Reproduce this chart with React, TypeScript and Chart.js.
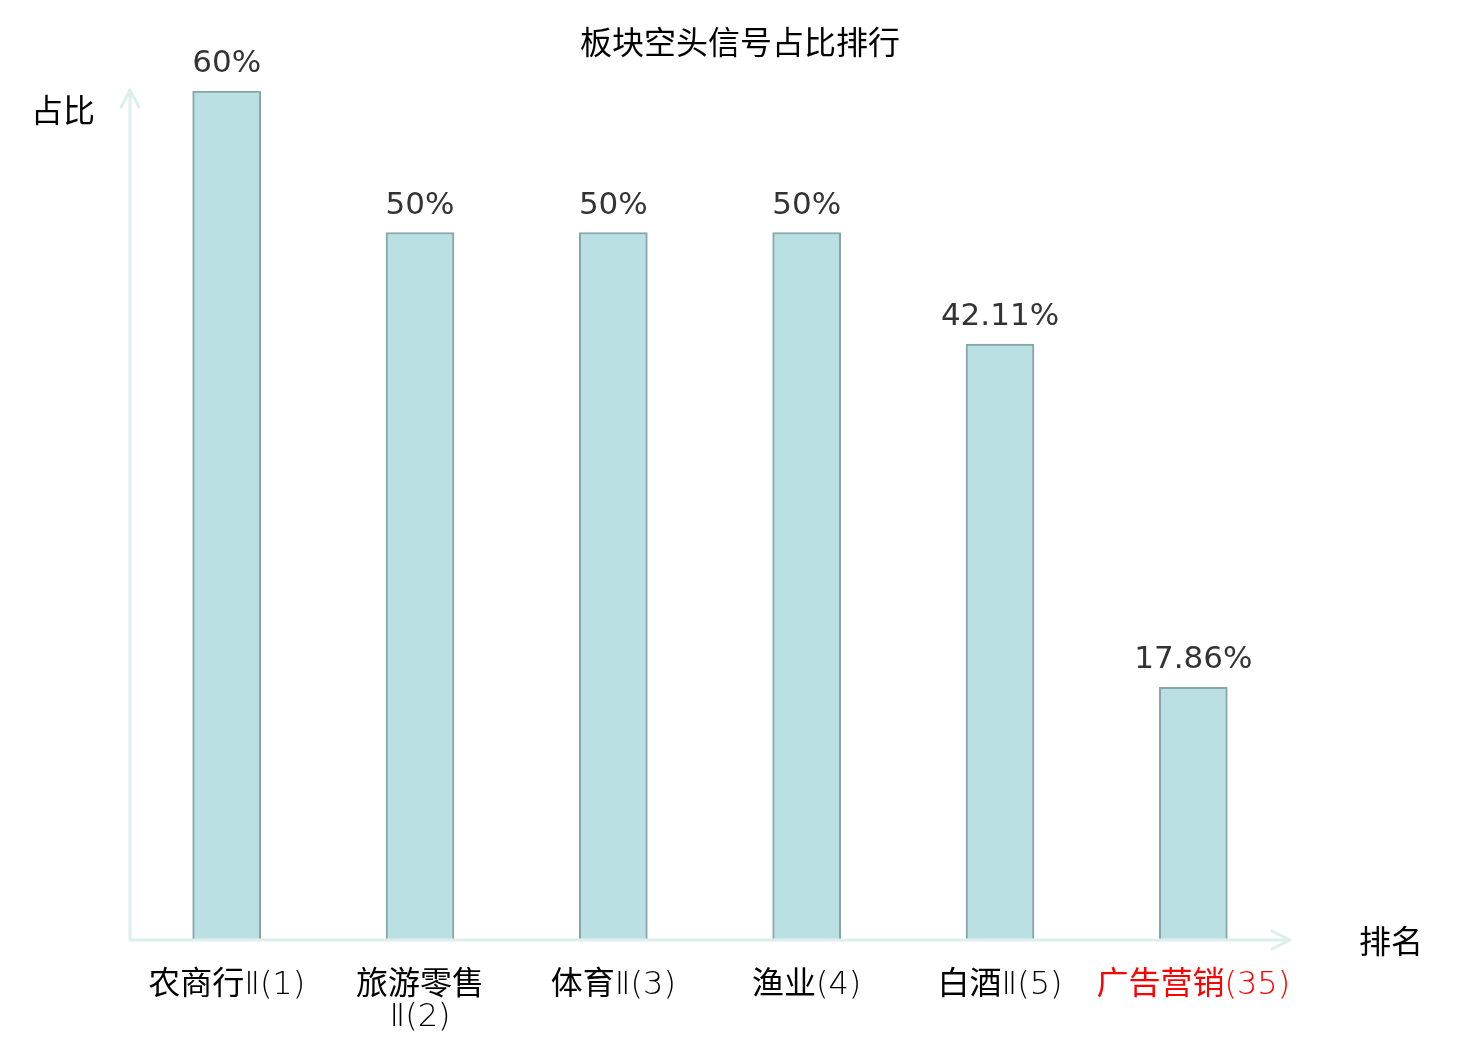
import { useEffect, useRef } from 'react';
import { Chart, registerables, Plugin } from 'chart.js';

Chart.register(...registerables);

const categories: (string | string[])[] = ['农商行Ⅱ(1)', ['旅游零售', 'Ⅱ(2)'], '体育Ⅱ(3)', '渔业(4)', '白酒Ⅱ(5)', '广告营销(35)'];
const ratios = [60, 50, 50, 50, 42.11, 17.86];
const highlightIndex = 5;

const chartTitle = '板块空头信号占比排行';
const yName = '占比';
const xName = '排名';

const CJK = '"Noto Sans CJK SC", "DejaVu Sans", sans-serif';
const CJK_FONT = '32px "Noto Sans CJK SC", sans-serif';
const LATIN_FONT = '200 32px "DejaVu Sans", sans-serif';
const AXIS_COLOR = '#dcefed';

const isCJK = (ch: string) => /[\u2E80-\u9FFF\uF900-\uFAFF\uFF00-\uFFEF]/.test(ch);

// category labels mix regular CJK with a light latin face
function drawMixed(ctx: CanvasRenderingContext2D, text: string, cx: number, y: number) {
    const runs: { s: string; font: string }[] = [];
    for (const ch of text) {
        const font = isCJK(ch) ? CJK_FONT : LATIN_FONT;
        const last = runs[runs.length - 1];
        if (last && last.font === font) last.s += ch;
        else runs.push({ s: ch, font });
    }
    let total = 0;
    const widths = runs.map((r) => {
        ctx.font = r.font;
        const w = ctx.measureText(r.s).width;
        total += w;
        return w;
    });
    let x = cx - total / 2;
    runs.forEach((r, i) => {
        ctx.font = r.font;
        ctx.fillText(r.s, x, y);
        x += widths[i];
    });
}

// axes with arrows, value labels, category labels, title and axis names
const decorations: Plugin<'bar'> = {
    id: 'decorations',
    afterDatasetsDraw(chart) {
        const { ctx, chartArea } = chart;
        const { left, right, top, bottom } = chartArea;
        ctx.save();

        ctx.strokeStyle = AXIS_COLOR;
        ctx.lineWidth = 3;
        ctx.lineCap = 'round';
        ctx.lineJoin = 'round';
        ctx.beginPath();
        ctx.moveTo(left, bottom);
        ctx.lineTo(left, top - 1);
        ctx.moveTo(left - 9, top + 16);
        ctx.lineTo(left, top - 1);
        ctx.lineTo(left + 9, top + 16);
        ctx.moveTo(left, bottom);
        ctx.lineTo(right, bottom);
        ctx.moveTo(right - 18, bottom - 9);
        ctx.lineTo(right, bottom);
        ctx.lineTo(right - 18, bottom + 9);
        ctx.stroke();

        const meta = chart.getDatasetMeta(0);
        ctx.fillStyle = '#333';
        ctx.font = '31px "DejaVu Sans", sans-serif';
        ctx.textAlign = 'center';
        ctx.textBaseline = 'alphabetic';
        meta.data.forEach((bar, i) => {
            ctx.fillText(ratios[i] + '%', bar.x, bar.y - 19);
        });

        const xScale = chart.scales.x;
        ctx.textAlign = 'left';
        ctx.textBaseline = 'alphabetic';
        categories.forEach((label, i) => {
            const cx = xScale.getPixelForValue(i);
            const lines = Array.isArray(label) ? label : [label];
            ctx.fillStyle = i === highlightIndex ? '#f00' : '#000';
            lines.forEach((line, j) => drawMixed(ctx, line, cx, bottom + 54 + j * 32));
        });

        ctx.fillStyle = '#000';
        ctx.textAlign = 'center';
        ctx.textBaseline = 'middle';
        ctx.font = '32px ' + CJK;
        ctx.fillText(chartTitle, chart.width / 2, 42);
        ctx.fillText(yName, 63, 110);
        ctx.fillText(xName, 1391, 941);
        ctx.restore();
    },
};

const App = () => {
    const canvasRef = useRef<HTMLCanvasElement | null>(null);
    const chartRef = useRef<Chart | null>(null);

    useEffect(() => {
        if (!canvasRef.current) return;
        if (chartRef.current) chartRef.current.destroy();

        chartRef.current = new Chart(canvasRef.current, {
            type: 'bar',
            data: {
                labels: categories,
                datasets: [
                    {
                        data: ratios,
                        backgroundColor: '#bbe0e3',
                        borderColor: '#88a5a8',
                        borderWidth: 2,
                        barThickness: 68,
                    },
                ],
            },
            options: {
                animation: false,
                responsive: false,
                layout: { padding: { left: 130, right: 190, top: 91, bottom: 0 } },
                plugins: {
                    legend: { display: false },
                    title: { display: false },
                    tooltip: { enabled: false },
                },
                scales: {
                    x: {
                        grid: { display: false, drawTicks: false },
                        border: { display: false },
                        afterFit: (scale: any) => {
                            scale.height = 100;
                        },
                        ticks: { display: false },
                    },
                    y: {
                        display: false,
                        min: 0,
                        max: 60,
                    },
                },
            },
            plugins: [decorations],
        });

        return () => {
            if (chartRef.current) {
                chartRef.current.destroy();
                chartRef.current = null;
            }
        };
    }, []);

    return (
        <div style={{ position: 'fixed', left: 0, top: 0, width: 1480, height: 1040, background: '#fff' }}>
            <canvas ref={canvasRef} width={1480} height={1040} style={{ width: 1480, height: 1040 }}></canvas>
        </div>
    );
};

export default App;
